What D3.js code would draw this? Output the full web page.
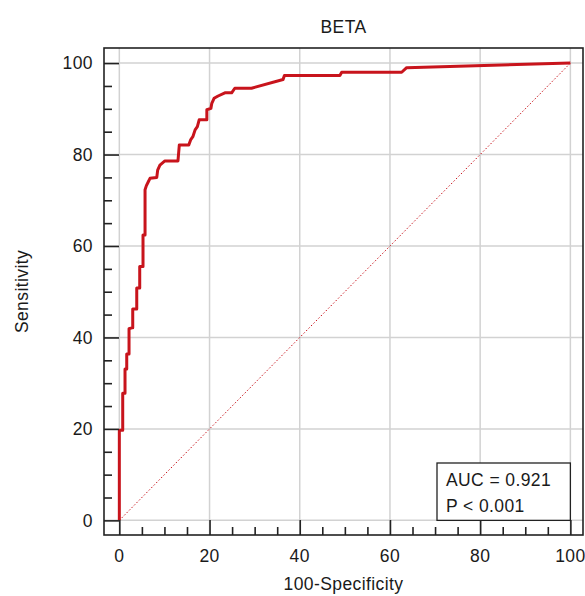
<!DOCTYPE html>
<html>
<head>
<meta charset="utf-8">
<script src="https://cdn.jsdelivr.net/npm/d3@7"></script>
<style>
  html, body { margin: 0; padding: 0; background: #fff; }
  text { font-family: "Liberation Sans", Arial, sans-serif; fill: #1a1a1a; letter-spacing: 0.4px; }
</style>
</head>
<body>
<svg id="chart" width="585" height="596"></svg>
<script>
// ---- data ----
const title = "BETA";
const xLabel = "100-Specificity";
const yLabel = "Sensitivity";
const majorTicks = [0, 20, 40, 60, 80, 100];
const minorTicks = [5, 10, 15, 25, 30, 35, 45, 50, 55, 65, 70, 75, 85, 90, 95];
const legendLines = ["AUC = 0.921", "P < 0.001"];
// ROC curve: 100-Specificity (fpr) and Sensitivity (tpr)
const fpr = [0, 0, 0.75, 0.75, 1.26, 1.26, 1.64, 1.64, 2.15, 2.15, 2.75, 2.97, 2.97, 3.86, 3.86, 4.52, 4.52, 5.25, 5.25, 5.7, 5.7, 6.0, 6.4, 6.8, 8.3, 8.5, 9.0, 10.1, 13.0, 13.3, 15.4, 15.8, 16.3, 16.8, 17.3, 17.7, 19.4, 19.4, 20.3, 20.5, 21.0, 21.9, 23.4, 24.9, 25.6, 29.3, 36.3, 36.6, 48.9, 49.3, 62.6, 63.7, 100];
const tpr = [0, 19.7, 19.7, 27.8, 27.8, 33.1, 33.1, 36.4, 36.4, 41.9, 42.1, 42.1, 46.2, 46.2, 50.8, 50.8, 55.5, 55.5, 62.4, 62.4, 72.3, 73.2, 74.0, 74.8, 75.0, 76.6, 77.7, 78.6, 78.6, 82.1, 82.1, 83.2, 83.9, 85.4, 86.1, 87.6, 87.6, 89.8, 90.1, 91.2, 92.3, 92.8, 93.5, 93.5, 94.5, 94.5, 96.4, 97.3, 97.3, 98.0, 98.0, 99.0, 100];
const diagonal = [0, 100];

// ---- layout ----
const svg = d3.select("#chart");
const frame = { left: 104, right: 583, top: 48, bottom: 535 };
const x = d3.scaleLinear().domain([-3.4, 102.8]).range([frame.left, frame.right]);
const y = d3.scaleLinear().domain([-3.2, 103.3]).range([frame.bottom, frame.top]);
const red = "#c8141c";
const fs = 17.5;

// gridlines
const g = svg.append("g");
g.selectAll("line.vg").data(majorTicks).join("line")
  .attr("x1", d => x(d)).attr("x2", d => x(d))
  .attr("y1", frame.top).attr("y2", frame.bottom)
  .attr("stroke", "#d2d2d2").attr("stroke-width", 1.5);
g.selectAll("line.hg").data(majorTicks).join("line")
  .attr("y1", d => y(d)).attr("y2", d => y(d))
  .attr("x1", frame.left).attr("x2", frame.right)
  .attr("stroke", "#d2d2d2").attr("stroke-width", 1.5);

// diagonal reference
svg.append("line")
  .attr("x1", x(diagonal[0])).attr("y1", y(diagonal[0]))
  .attr("x2", x(diagonal[1])).attr("y2", y(diagonal[1]))
  .attr("stroke", red).attr("stroke-width", 1)
  .attr("stroke-dasharray", "1.5,2");

// ROC curve
const pts = fpr.map((v, i) => [v, tpr[i]]);
svg.append("path")
  .attr("d", d3.line().x(d => x(d[0])).y(d => y(d[1]))(pts))
  .attr("fill", "none").attr("stroke", red).attr("stroke-width", 3)
  .attr("stroke-linejoin", "round");

// axes (ticks inward)
const xAxis = d3.axisTop(x).tickValues(majorTicks).tickSize(15).tickFormat("");
const xMinor = d3.axisTop(x).tickValues(minorTicks).tickSize(8).tickFormat("");
const yAxis = d3.axisRight(y).tickValues(majorTicks).tickSize(15).tickFormat("");
const yMinor = d3.axisRight(y).tickValues(minorTicks).tickSize(8).tickFormat("");
[xAxis, xMinor].forEach(a => svg.append("g").attr("transform", `translate(0,${frame.bottom})`).call(a)
  .call(s => s.select(".domain").remove()).call(s => s.selectAll("line").attr("stroke", "#222").attr("stroke-width", 1.6)));
[yAxis, yMinor].forEach(a => svg.append("g").attr("transform", `translate(${frame.left},0)`).call(a)
  .call(s => s.select(".domain").remove()).call(s => s.selectAll("line").attr("stroke", "#222").attr("stroke-width", 1.6)));

// frame
svg.append("rect")
  .attr("x", frame.left).attr("y", frame.top)
  .attr("width", frame.right - frame.left).attr("height", frame.bottom - frame.top)
  .attr("fill", "none").attr("stroke", "#222").attr("stroke-width", 1.6);

// tick labels
svg.selectAll("text.xt").data(majorTicks).join("text")
  .attr("x", d => x(d)).attr("y", 562)
  .attr("text-anchor", "middle").attr("font-size", fs)
  .text(d => d);
svg.selectAll("text.yt").data(majorTicks).join("text")
  .attr("x", 93).attr("y", d => y(d)).attr("dy", "0.36em")
  .attr("text-anchor", "end").attr("font-size", fs)
  .text(d => d);

// titles
svg.append("text").attr("x", (frame.left + frame.right) / 2).attr("y", 33)
  .attr("text-anchor", "middle").attr("font-size", fs).text(title);
svg.append("text").attr("x", (frame.left + frame.right) / 2).attr("y", 590)
  .attr("text-anchor", "middle").attr("font-size", fs).text(xLabel);
svg.append("text")
  .attr("transform", `translate(28,${(frame.top + frame.bottom) / 2}) rotate(-90)`)
  .attr("text-anchor", "middle").attr("font-size", fs).text(yLabel);

// legend box
const bx1 = 437, by1 = 463, bx2 = x(100), by2 = y(0);
svg.append("rect").attr("x", bx1).attr("y", by1)
  .attr("width", bx2 - bx1).attr("height", by2 - by1)
  .attr("fill", "#fff").attr("stroke", "#222").attr("stroke-width", 1.3);
svg.selectAll("text.leg").data(legendLines).join("text")
  .attr("x", 446).attr("y", (d, i) => 486 + i * 26)
  .attr("font-size", fs).text(d => d);
</script>
</body>
</html>
